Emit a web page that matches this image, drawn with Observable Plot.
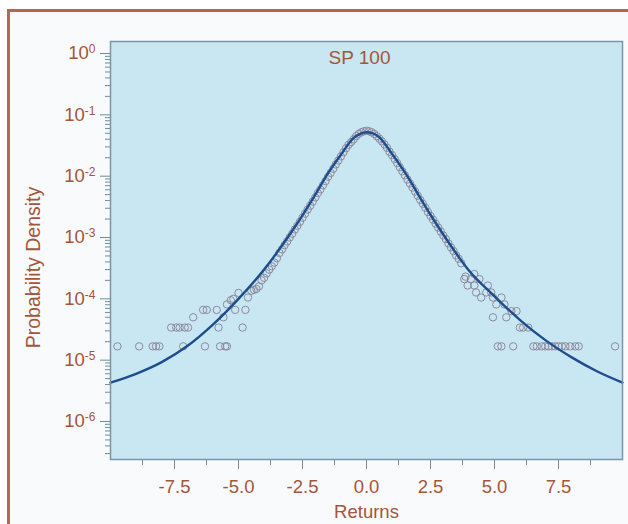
<!DOCTYPE html>
<html><head><meta charset="utf-8">
<script src="https://cdn.jsdelivr.net/npm/d3@7"></script>
<script src="https://cdn.jsdelivr.net/npm/@observablehq/plot@0.6"></script>
<style>
html,body{margin:0;padding:0;background:#fff;}
#wrap{position:relative;width:628px;height:524px;overflow:hidden;}
#border{position:absolute;left:7px;top:9px;width:700px;height:600px;border-left:3px solid #b7654c;border-top:3px solid #b7654c;background:#f8fafc;}
#chart{position:absolute;left:0;top:0;}
</style></head><body>
<div id="wrap"><div id="border"></div><div id="chart"></div></div>
<script>
// ---- data ----
const title = "SP 100";
const xLabel = "Returns";
const yLabel = "Probability Density";

// fitted density curve (x = return, y = density)
const curveX = [-10, -9, -8, -7, -6, -5, -4, -3, -2.5, -2, -1.5, -1, -0.5, -0.25, 0, 0.25, 0.5, 1, 1.5, 2, 2.5, 3, 4, 5, 6, 7, 8, 9, 10];
const curveY = [4.3e-6, 6.0e-6, 9.3e-6, 1.7e-5, 3.8e-5, 1.0e-4, 3.0e-4, 1.12e-3, 2.3e-3, 5.0e-3, 1.12e-2, 2.24e-2, 4.2e-2, 4.9e-2, 5.2e-2, 5.0e-2, 4.3e-2, 2.3e-2, 1.15e-2, 5.2e-3, 2.35e-3, 1.12e-3, 2.9e-4, 1.1e-4, 4.5e-5, 2.1e-5, 1.12e-5, 6.6e-6, 4.3e-6];

// empirical density points
const pointX = [
  -9.73, -8.88, -8.35, -8.22, -8.09, -7.16, -6.31, -5.72, -5.52, -5.45,
  -7.63, -7.43, -7.30, -7.10, -6.97, -5.78, -4.84,
  -6.77, -5.59,
  -6.38, -6.24, -5.85, -5.13, -4.73,
  -5.45, -5.3, -5.2, -5.0, -4.63, -4.5, -4.4, -4.3, -4.2, -4.1, -4.0, -3.9, -3.8, -3.7, -3.6,
  -3.5, -3.4, -3.3, -3.2, -3.1, -3.0, -2.9, -2.8, -2.7, -2.6, -2.5, -2.4, -2.3, -2.2, -2.1, -2.0,
  -1.9, -1.8, -1.7, -1.6, -1.5, -1.4, -1.3, -1.2, -1.1, -1.0, -0.9, -0.8, -0.7, -0.6, -0.5,
  -0.4, -0.3, -0.2, -0.1, 0.0, 0.1, 0.2, 0.3, 0.4, 0.5, 0.6, 0.7, 0.8, 0.9, 1.0,
  1.1, 1.2, 1.3, 1.4, 1.5, 1.6, 1.7, 1.8, 1.9, 2.0, 2.1, 2.2, 2.3, 2.4, 2.5,
  2.6, 2.7, 2.8, 2.9, 3.0, 3.1, 3.2, 3.3, 3.4, 3.5, 3.6, 3.7,
  3.82, 3.87, 3.95, 4.08, 4.21, 4.21, 4.28, 4.41, 4.48, 4.68, 4.74, 4.87, 4.94, 4.94, 5.07, 5.27, 5.39, 5.46, 5.66, 5.86, 5.99, 6.12, 6.32,
  5.13, 5.27, 5.73, 6.52, 6.65, 6.84, 6.98, 7.11, 7.24, 7.37, 7.50, 7.63, 7.77, 7.96, 8.16, 8.29, 9.71
];
const pointY = [
  1.68e-5, 1.68e-5, 1.68e-5, 1.68e-5, 1.68e-5, 1.68e-5, 1.68e-5, 1.68e-5, 1.68e-5, 1.68e-5,
  3.4e-5, 3.4e-5, 3.4e-5, 3.4e-5, 3.4e-5, 3.4e-5, 3.4e-5,
  5.0e-5, 5.0e-5,
  6.6e-5, 6.6e-5, 6.6e-5, 6.6e-5, 6.6e-5,
  8.1e-5, 9.5e-5, 1.0e-4, 1.25e-4, 1.05e-4, 1.35e-4, 1.4e-4, 1.45e-4, 1.6e-4, 2.0e-4, 2.2e-4, 2.6e-4, 3.0e-4, 3.4e-4, 3.9e-4,
  4.6e-4, 5.6e-4, 6.4e-4, 7.5e-4, 8.6e-4, 1.0e-3, 1.15e-3, 1.35e-3, 1.55e-3, 1.8e-3, 2.1e-3, 2.45e-3, 2.85e-3, 3.3e-3, 3.85e-3, 4.5e-3,
  5.3e-3, 6.1e-3, 7.1e-3, 8.3e-3, 9.8e-3, 1.13e-2, 1.32e-2, 1.55e-2, 1.8e-2, 2.1e-2, 2.45e-2, 2.85e-2, 3.25e-2, 3.6e-2, 4.0e-2,
  4.5e-2, 4.9e-2, 5.2e-2, 5.4e-2, 5.5e-2, 5.4e-2, 5.2e-2, 4.9e-2, 4.5e-2, 4.1e-2, 3.7e-2, 3.3e-2, 2.9e-2, 2.5e-2, 2.2e-2,
  1.9e-2, 1.63e-2, 1.4e-2, 1.2e-2, 1.03e-2, 8.8e-3, 7.6e-3, 6.5e-3, 5.6e-3, 4.8e-3, 4.1e-3, 3.55e-3, 3.05e-3, 2.6e-3, 2.25e-3,
  1.95e-3, 1.68e-3, 1.45e-3, 1.25e-3, 1.08e-3, 9.4e-4, 8.0e-4, 6.9e-4, 6.0e-4, 5.1e-4, 4.5e-4, 3.8e-4,
  2.1e-4, 2.3e-4, 1.65e-4, 2.1e-4, 1.65e-4, 2.54e-4, 1.27e-4, 2.1e-4, 1.05e-4, 1.27e-4, 1.65e-4, 1.27e-4, 1.05e-4, 5.0e-5, 8.1e-5, 1.05e-4, 8.1e-5, 5.0e-5, 6.3e-5, 6.3e-5, 3.4e-5, 3.4e-5, 3.4e-5,
  1.68e-5, 1.68e-5, 1.68e-5, 1.68e-5, 1.68e-5, 1.68e-5, 1.68e-5, 1.68e-5, 1.68e-5, 1.68e-5, 1.68e-5, 1.68e-5, 1.68e-5, 1.68e-5, 1.68e-5, 1.68e-5, 1.68e-5
];

const xTicks = [-7.5, -5, -2.5, 0, 2.5, 5, 7.5];
const xMinorTicks = [-8.75, -6.25, -3.75, -1.25, 1.25, 3.75, 6.25, 8.75];
const yTicks = [1, 1e-1, 1e-2, 1e-3, 1e-4, 1e-5, 1e-6];
const xDomain = [-10, 10];
const yDomain = [2.4e-7, 1.57];

// ---- build ----
const curve = curveX.map((x, i) => ({x, y: curveY[i]}));
const points = pointX.map((x, i) => ({x, y: pointY[i]}));
const yMinor = d3.scaleLog().domain(yDomain).ticks().filter(v => !yTicks.includes(v));

const textColor = "#a5553a";
const axisColor = "#6f8c9b";
const font = "Liberation Sans, Arial, sans-serif";

const chart = Plot.plot({
  width: 628,
  height: 524,
  marginLeft: 110,
  marginRight: 6,
  marginTop: 41,
  marginBottom: 65,
  style: {fontFamily: font, fontSize: "18.5px", color: textColor, background: "transparent", overflow: "visible"},
  x: {domain: xDomain},
  y: {type: "log", domain: yDomain},
  marks: [
    Plot.frame({fill: "#c9e7f3"}),
    Plot.axisX(xTicks, {tickSize: 10, tickPadding: 10, stroke: axisColor, fill: textColor, fontSize: 18.5, tickFormat: d => d.toFixed(1), label: null}),
    Plot.axisX(xMinorTicks, {tickSize: 6, stroke: axisColor, tickFormat: () => "", label: null}),
    Plot.axisY(yTicks, {tickSize: 10, tickPadding: 5, stroke: axisColor, fill: textColor, fontSize: 18.5, tickFormat: d => "10^" + Math.round(Math.log10(d)), label: null}),
    Plot.axisY(yMinor, {tickSize: 5, stroke: axisColor, tickFormat: () => "", label: null}),
    Plot.dot(points, {x: "x", y: "y", r: 3.7, stroke: "#8a8496", strokeWidth: 0.95, fill: "none"}),
    Plot.line(curve, {x: "x", y: "y", stroke: "#1d4d8e", strokeWidth: 2.4, curve: "monotone-x"}),
    Plot.frame({stroke: "#7b97a5", strokeWidth: 1.5}),
    Plot.text([title], {frameAnchor: "top", dy: 16, dx: -7, lineAnchor: "middle", fill: textColor, fontSize: 19}),
    Plot.text([xLabel], {frameAnchor: "bottom", dy: 53, lineAnchor: "middle", fill: textColor, fontSize: 18.5}),
    Plot.text([yLabel], {frameAnchor: "left", dx: -77, dy: 17, rotate: -90, textAnchor: "middle", lineAnchor: "middle", fill: textColor, fontSize: 19.5})
  ]
});

// superscript exponents on the y tick labels
chart.querySelectorAll('g[aria-label="y-axis tick label"] text').forEach(t => {
  const s = t.textContent;
  if (!s.includes("^")) return;
  const e = s.split("^")[1];
  t.textContent = "10";
  const ts = document.createElementNS("http://www.w3.org/2000/svg", "tspan");
  ts.setAttribute("dy", "-0.5em");
  ts.setAttribute("font-size", "12");
  ts.textContent = e;
  t.appendChild(ts);
});

document.getElementById("chart").appendChild(chart);
</script>
</body></html>
